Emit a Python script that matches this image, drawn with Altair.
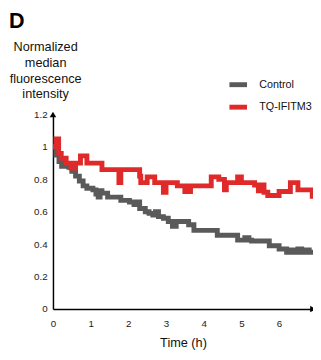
import altair as alt
import pandas as pd

# Control (gray) series
ctrl_t = [0.0, 0.08, 0.16, 0.23, 0.42, 0.5, 0.6, 0.7, 0.8, 0.9, 1.06, 1.14, 1.2, 1.25, 1.3,
          1.45, 1.7, 1.8, 2.03, 2.15, 2.23, 2.3, 2.45, 2.55, 2.65, 2.72, 2.8, 2.93, 3.06, 3.17,
          3.27, 3.53, 3.6, 3.74, 4.36, 4.9, 5.09, 5.2, 5.27, 5.74, 6.0, 6.2, 6.3, 6.4, 6.5,
          6.6, 6.7, 6.8, 6.9]
ctrl_v = [1.00, 0.95, 0.91, 0.88, 0.875, 0.85, 0.82, 0.79, 0.76, 0.745, 0.735, 0.71, 0.69, 0.73, 0.715,
          0.69, 0.69, 0.67, 0.66, 0.645, 0.66, 0.62, 0.60, 0.59, 0.58, 0.60, 0.57, 0.56, 0.54, 0.51,
          0.54, 0.54, 0.52, 0.485, 0.455, 0.425, 0.44, 0.425, 0.42, 0.39, 0.37, 0.35, 0.365, 0.35, 0.37,
          0.35, 0.365, 0.35, 0.36]

# TQ-IFITM3 (red) series
tq_t = [0.0, 0.08, 0.15, 0.22, 0.35, 0.48, 0.6, 0.73, 0.9, 1.3, 1.75, 1.8, 2.2, 2.3, 2.33,
        2.5, 2.7, 2.93, 3.0, 3.3, 3.5, 3.55, 3.6, 3.65, 4.2, 4.4, 4.55, 4.6, 4.9, 5.0,
        5.35, 5.45, 5.5, 5.6, 5.7, 6.0, 6.3, 6.5, 6.88, 6.9]
tq_v = [1.00, 1.05, 0.96, 0.93, 0.90, 0.87, 0.90, 0.945, 0.90, 0.86, 0.78, 0.86, 0.86, 0.82, 0.78,
        0.815, 0.78, 0.72, 0.78, 0.76, 0.725, 0.76, 0.725, 0.76, 0.815, 0.80, 0.735, 0.78, 0.815, 0.78,
        0.765, 0.73, 0.765, 0.72, 0.70, 0.725, 0.78, 0.735, 0.695, 0.695]

series_names = ["Control", "TQ-IFITM3"]
series_colors = ["#5a5a5a", "#e02a2a"]

x_ticks = [0, 1, 2, 3, 4, 5, 6]
y_ticks = [0, 0.2, 0.4, 0.6, 0.8, 1.0, 1.2]

df = pd.concat([
    pd.DataFrame({"t": ctrl_t, "v": ctrl_v, "series": "Control"}),
    pd.DataFrame({"t": tq_t, "v": tq_v, "series": "TQ-IFITM3"}),
])

arrows = pd.DataFrame({"t": [0.0, 6.9], "v": [1.2, 0.0], "dir": ["up", "right"]})

xscale = alt.Scale(domain=[0, 6.9], nice=False)
yscale = alt.Scale(domain=[0, 1.2], nice=False)

x_axis = alt.Axis(title="Time (h)", values=x_ticks, ticks=False, grid=False,
                  domainColor="black", domainWidth=1.5, labelPadding=10,
                  labelOverlap=False, titlePadding=8, labelFlush=False)
y_axis = alt.Axis(title=["Normalized", "median", "fluorescence", "intensity"],
                  values=y_ticks, format=".1~f", ticks=False, grid=False,
                  domainColor="black", domainWidth=1.5, labelPadding=6,
                  labelOverlap=False, titleAngle=0, titleAlign="center",
                  titleBaseline="top", titleX=-8, titleY=-75, titleLineHeight=16)

lines = alt.Chart(df).mark_line(strokeWidth=5, interpolate="step-after", clip=False).encode(
    x=alt.X("t:Q", scale=xscale, axis=x_axis),
    y=alt.Y("v:Q", scale=yscale, axis=y_axis),
    color=alt.Color("series:N", scale=alt.Scale(domain=series_names, range=series_colors),
                    legend=alt.Legend(title=None, orient="none", legendX=178, legendY=-42,
                                      symbolType="stroke", symbolStrokeWidth=5, symbolSize=324,
                                      labelFont="Liberation Sans", labelFontSize=11,
                                      labelColor="#111", labelOffset=10, rowPadding=1)),
)

arrow_marks = alt.Chart(arrows).mark_point(filled=True, size=45, color="black", opacity=1).encode(
    x=alt.X("t:Q", scale=xscale, axis=x_axis),
    y=alt.Y("v:Q", scale=yscale, axis=y_axis),
    shape=alt.Shape("dir:N", scale=alt.Scale(domain=["up", "right"],
                                             range=["triangle-up", "triangle-right"]), legend=None),
)

chart = alt.layer(lines, arrow_marks).properties(
    width=266, height=199,
    padding={"left": 46, "top": 105, "right": 0, "bottom": 40},
    autosize=alt.AutoSizeParams(type="none"),
    title=alt.TitleParams("D", anchor="start", frame="bounds", fontSize=22, fontWeight="bold",
                          font="Liberation Sans", color="black", offset=8),
).configure_view(stroke=None).configure_axis(
    labelFont="Liberation Sans", labelFontSize=10, labelColor="#222",
    titleFont="Liberation Sans", titleFontSize=13, titleFontWeight="normal", titleColor="#111",
)

chart.save("out.html", embed_options={"renderer": "svg", "actions": False})
